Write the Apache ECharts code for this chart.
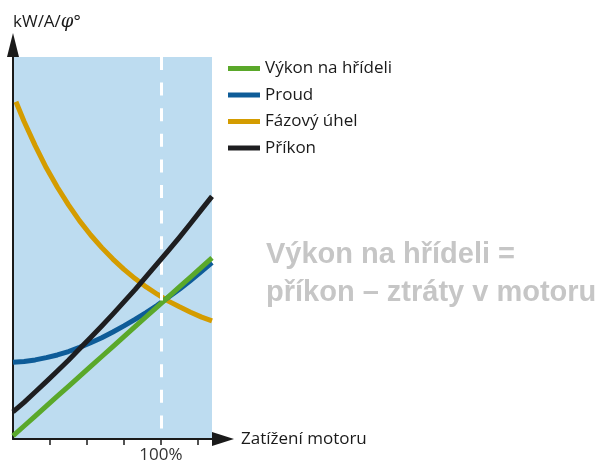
<!DOCTYPE html>
<html>
<head>
<meta charset="utf-8">
<script src="https://cdn.jsdelivr.net/npm/echarts@6/dist/echarts.min.js"></script>
<style>
  html, body { margin: 0; padding: 0; background: #fff; }
  #chart { width: 602px; height: 464px; }
</style>
</head>
<body>
<div id="chart"></div>
<script>
// zatížení motoru (%), 100 % = jmenovité zatížení
const load = [0, 7.5, 15, 22.5, 30, 37.5, 45, 52.5, 60, 67.5, 75, 82.5, 90, 97.5, 105, 112.5, 120, 127.5, 134.5];
const phaseLoad = [2, 7.5, 15, 22.5, 30, 37.5, 45, 52.5, 60, 67.5, 75, 82.5, 90, 97.5, 105, 112.5, 120, 127.5, 134.5];

// hodnoty v relativních jednotkách (0..100)
const shaftPower = [0.8, 3.4, 6.0, 8.6, 11.2, 13.8, 16.4, 19.0, 21.6, 24.2, 26.8, 29.4, 32.0, 34.6, 37.2, 39.8, 42.4, 45.0, 47.4];
const current = [20.1, 20.3, 20.7, 21.3, 22.0, 22.9, 24.0, 25.2, 26.5, 28.0, 29.6, 31.3, 33.1, 35.0, 37.1, 39.2, 41.5, 43.9, 46.2];
const phaseAngle = [88.3, 83.1, 76.8, 71.0, 65.9, 61.3, 57.1, 53.4, 50.1, 47.1, 44.4, 42.0, 39.8, 37.9, 36.1, 34.6, 33.2, 31.9, 30.9];
const inputPower = [7.1, 9.6, 12.3, 15.0, 17.8, 20.6, 23.6, 26.6, 29.6, 32.7, 35.9, 39.1, 42.5, 45.9, 49.3, 52.8, 56.4, 60.1, 63.5];

const names = ['Výkon na hřídeli', 'Proud', 'Fázový úhel', 'Příkon'];
const colors = ['#5aa82a', '#0e5c98', '#d49c00', '#1e1e20'];
const xTicks = [25, 50, 75, 100, 125];
const xLabels = [100];
const fontFam = '"Open Sans", "Noto Sans", sans-serif';

const pairs = (xs, ys) => xs.map((x, i) => [x, ys[i]]);

const chart = echarts.init(document.getElementById('chart'));

const lineSeries = (i, xs, ys, z) => ({
  name: names[i],
  type: 'line',
  z: z,
  showSymbol: false,
  data: pairs(xs, ys),
  color: colors[i],
  lineStyle: { width: 5, color: colors[i], join: 'round' }
});

const option = {
  animation: false,
  backgroundColor: '#fff',
  title: {
    text: 'Výkon na hřídeli =\npříkon – ztráty v motoru',
    left: 266,
    top: 236,
    padding: 0,
    textStyle: {
      color: '#c6c6c6',
      fontSize: 29,
      fontWeight: 'bold',
      lineHeight: 38,
      fontFamily: '"Liberation Sans", Arial, sans-serif'
    }
  },
  legend: {
    orient: 'vertical',
    left: 228,
    top: 60,
    padding: 0,
    itemWidth: 32,
    itemHeight: 5,
    itemGap: 9.5,
    icon: 'rect',
    data: names,
    textStyle: { fontSize: 17, lineHeight: 17, color: '#1a1a1a', fontFamily: fontFam }
  },
  grid: {
    left: 13,
    top: 57,
    width: 199,
    height: 383,
    show: true,
    backgroundColor: '#bddcf0',
    borderWidth: 0
  },
  xAxis: {
    type: 'value',
    min: 0,
    max: 134.5,
    name: 'Zatížení motoru',
    nameLocation: 'end',
    nameGap: 29,
    nameTextStyle: { fontSize: 17, color: '#1a1a1a', fontFamily: fontFam },
    splitLine: { show: false },
    axisLine: {
      lineStyle: { color: '#1a1a1a', width: 2 },
      symbol: ['none', 'triangle'],
      symbolSize: [14, 22],
      symbolOffset: [0, 11]
    },
    axisTick: {
      show: true,
      length: 6,
      customValues: xTicks,
      lineStyle: { color: '#1a1a1a', width: 1.5 }
    },
    axisLabel: {
      customValues: xLabels,
      formatter: '{value}%',
      margin: 8,
      fontSize: 17,
      color: '#333',
      fontFamily: fontFam
    }
  },
  yAxis: {
    type: 'value',
    min: 0,
    max: 100,
    name: '{a|kW/A/}{b|φ}{a|°}',
    nameLocation: 'end',
    nameGap: 26,
    nameTextStyle: {
      align: 'left',
      rich: {
        a: { fontSize: 17, color: '#1a1a1a', fontFamily: fontFam },
        b: { fontSize: 18, color: '#1a1a1a', fontStyle: 'italic', fontFamily: '"DejaVu Serif", serif' }
      }
    },
    splitLine: { show: false },
    axisTick: { show: false },
    axisLabel: { show: false },
    axisLine: {
      show: true,
      lineStyle: { color: '#1a1a1a', width: 2 },
      symbol: ['none', 'triangle'],
      symbolSize: [12, 24],
      symbolOffset: [0, 12]
    }
  },
  series: [
    Object.assign(lineSeries(0, load, shaftPower, 4), {
      markLine: {
        silent: true,
        symbol: 'none',
        label: { show: false },
        lineStyle: { color: '#fff', width: 3, type: [13, 12.6] },
        data: [[{ coord: [100, 100] }, { coord: [100, 0] }]]
      }
    }),
    lineSeries(1, load, current, 3),
    lineSeries(2, phaseLoad, phaseAngle, 2),
    lineSeries(3, load, inputPower, 5)
  ]
};

chart.setOption(option);
</script>
</body>
</html>
